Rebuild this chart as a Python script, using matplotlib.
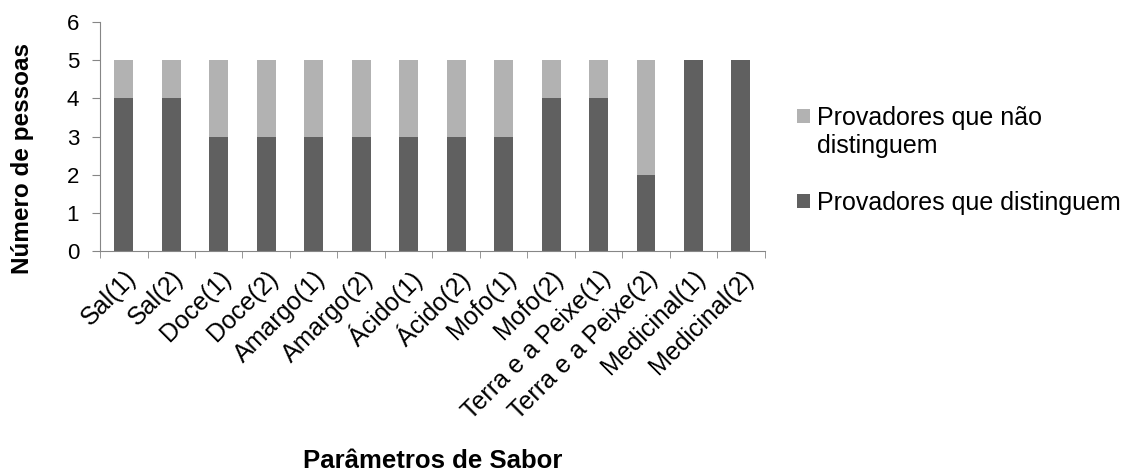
import numpy as np
import matplotlib.pyplot as plt

plt.rcParams['font.family'] = ['Liberation Sans', 'DejaVu Sans']

categorias = ["Sal(1)", "Sal(2)", "Doce(1)", "Doce(2)", "Amargo(1)", "Amargo(2)",
              "Ácido(1)", "Ácido(2)", "Mofo(1)", "Mofo(2)", "Terra e a Peixe(1)",
              "Terra e a Peixe(2)", "Medicinal(1)", "Medicinal(2)"]
distinguem = [4, 4, 3, 3, 3, 3, 3, 3, 3, 4, 4, 2, 5, 5]
nao_distinguem = [1, 1, 2, 2, 2, 2, 2, 2, 2, 1, 1, 3, 0, 0]

cor_escura = "#606060"
cor_clara = "#b2b2b2"
cor_eixo = "#868686"

fig = plt.figure(figsize=(11.42, 4.74), dpi=100)
ax = fig.add_axes([0.0876, 0.4705, 0.582, 0.483])

x = np.arange(len(categorias))
b1 = ax.bar(x, distinguem, width=0.4, color=cor_escura, label="Provadores que distinguem")
b2 = ax.bar(x, nao_distinguem, width=0.4, bottom=distinguem, color=cor_clara,
            label="Provadores que não")

ax.set_xlim(-0.5, len(categorias) - 0.5)
ax.set_ylim(0, 6)
ax.set_yticks(range(0, 7))
ax.tick_params(axis='y', labelsize=16, length=6, color=cor_eixo, pad=9)

ax.set_xticks(x)
ax.set_xticklabels(categorias, rotation=45, ha='right', rotation_mode='anchor', fontsize=18)
ax.set_xticks(np.arange(-0.5, len(categorias)), minor=True)
ax.tick_params(axis='x', which='major', length=0, pad=11)
ax.tick_params(axis='x', which='minor', length=5, color=cor_eixo)

for s in ['top', 'right']:
    ax.spines[s].set_visible(False)
for s in ['left', 'bottom']:
    ax.spines[s].set_color(cor_eixo)

ax.set_ylabel("Número de pessoas", fontsize=17.5, fontweight='bold')
ax.yaxis.set_label_coords(-0.1, 0.405)
ax.set_xlabel("Parâmetros de Sabor", fontsize=18.5, fontweight='bold', labelpad=18)

leg = fig.legend(handles=[b2, b1], loc='upper left',
                 bbox_to_anchor=(797 / 1142, 1 - 106 / 474),
                 frameon=False, fontsize=18, borderpad=0, borderaxespad=0,
                 handlelength=0.5, handleheight=0.5,
                 handletextpad=0.3, labelspacing=2.45)

# second line of the first legend entry, placed under its text
fig.canvas.draw()
bb = leg.get_texts()[0].get_window_extent()
fig.text(bb.x0 / fig.bbox.width, (bb.y0 - 4) / fig.bbox.height, "distinguem",
         fontsize=18, ha='left', va='top')

fig.savefig("out.png", dpi=100)
